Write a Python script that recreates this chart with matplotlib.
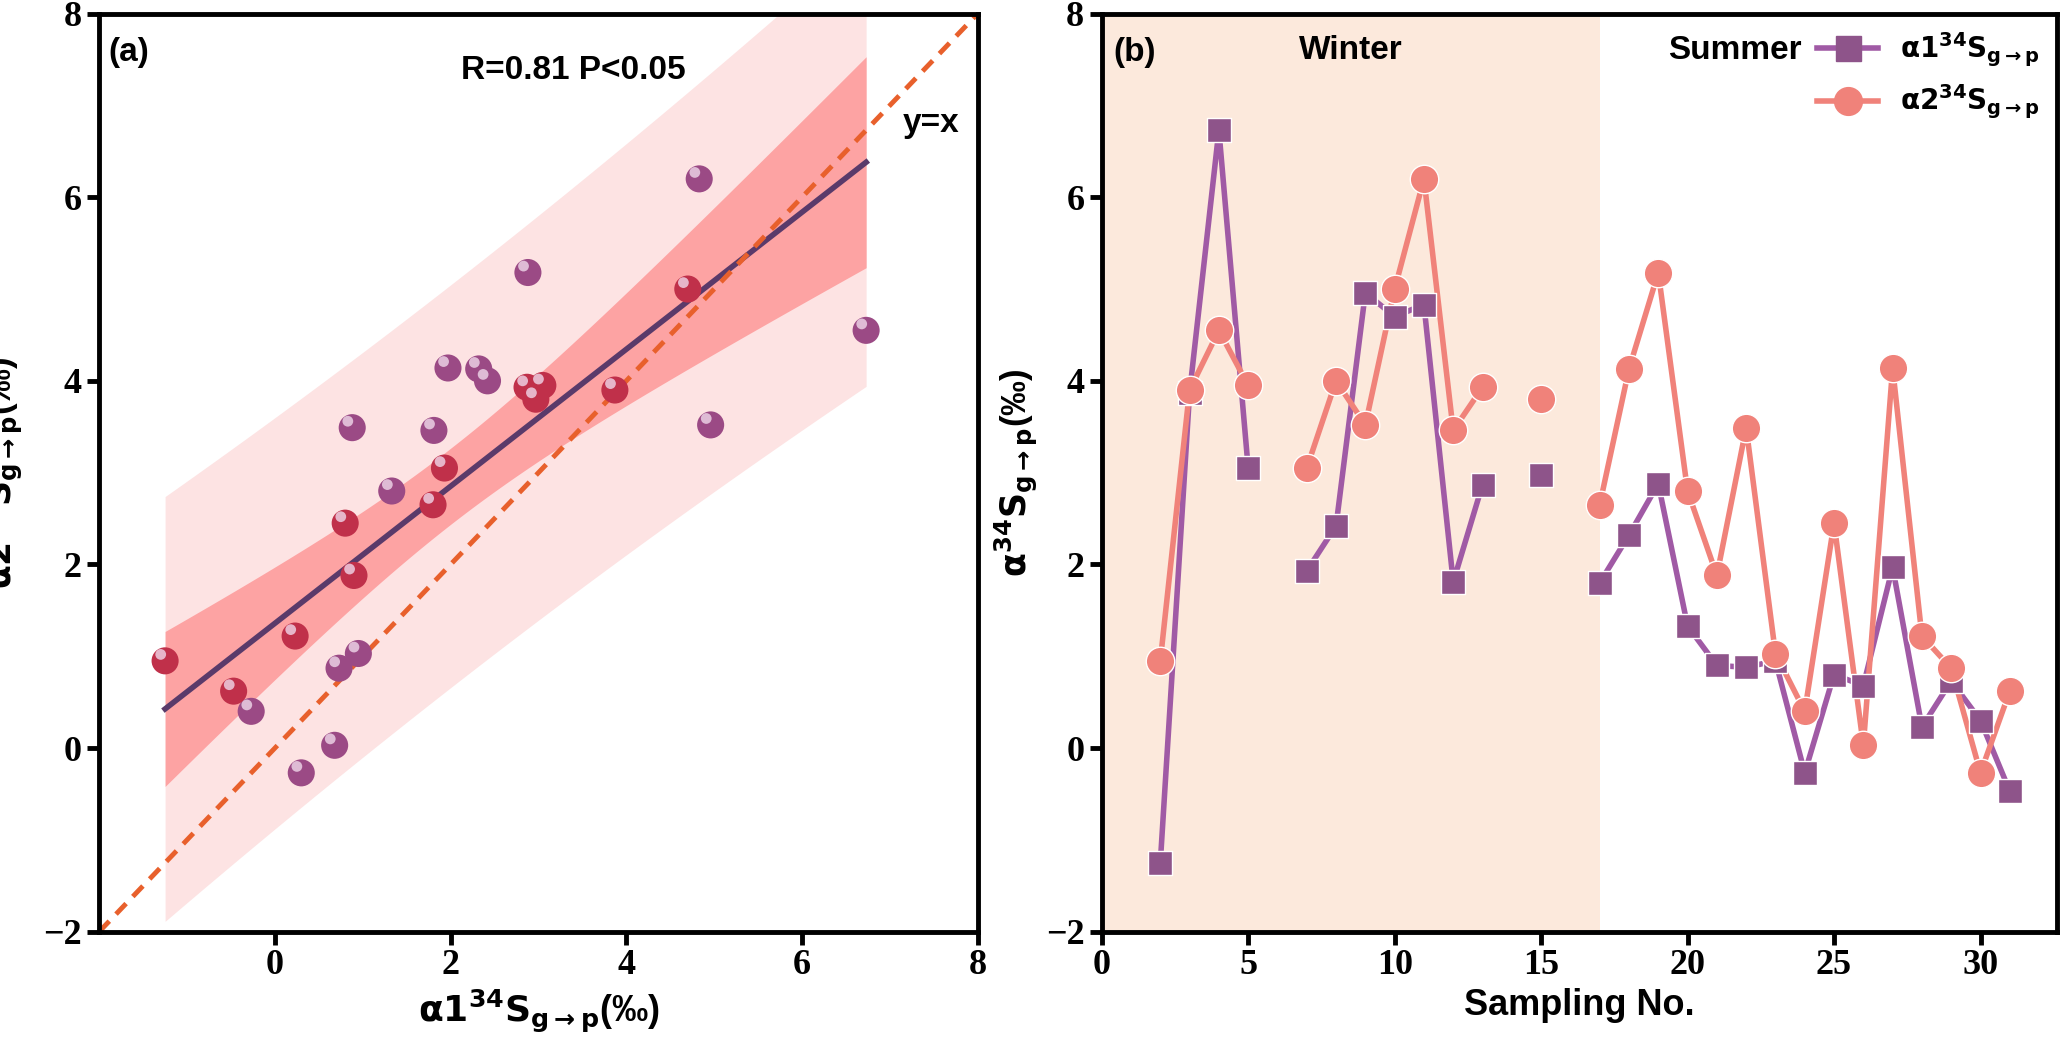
import matplotlib
matplotlib.use("Agg")
import matplotlib.pyplot as plt
import numpy as np

samples = [2, 3, 4, 5, 7, 8, 9, 10, 11, 12, 13, 15, 17, 18, 19, 20, 21, 22, 23, 24, 25, 26, 27, 28, 29, 30, 31]
alpha1 = [-1.25, 3.87, 6.73, 3.05, 1.93, 2.42, 4.96, 4.70, 4.83, 1.81, 2.87, 2.97, 1.80, 2.32, 2.88, 1.33,
          0.90, 0.88, 0.95, -0.27, 0.80, 0.68, 1.97, 0.23, 0.73, 0.30, -0.47]
alpha2 = [0.95, 3.90, 4.55, 3.95, 3.05, 4.00, 3.52, 5.00, 6.20, 3.46, 3.93, 3.80, 2.65, 4.13, 5.18, 2.80,
          1.88, 3.49, 1.03, 0.40, 2.45, 0.03, 4.14, 1.22, 0.87, -0.27, 0.62]
# runs of consecutive samples are joined by lines
segments = [(2, 5), (7, 13), (15, 15), (17, 31)]
winter_end = 17

serif = "Liberation Serif"
sans = "Liberation Sans"
purple = "#a05aa5"
salmon = "#f0827a"

fig = plt.figure(figsize=(20.67, 10.48), dpi=100)
ax_a = fig.add_axes([0.048, 0.111, 0.425, 0.876])
ax_b = fig.add_axes([0.533, 0.111, 0.462, 0.876])

# ---- panel (a)
x = np.array(alpha1)
y = np.array(alpha2)
slope, intercept = np.polyfit(x, y, 1)
n = len(x)
resid = y - (slope * x + intercept)
s = np.sqrt(np.sum(resid**2) / (n - 2))
xs = np.linspace(x.min(), x.max(), 200)
yfit = slope * xs + intercept
sxx = np.sum((x - x.mean())**2)
t = 2.06
ci = t * s * np.sqrt(1/n + (xs - x.mean())**2 / sxx)
pi = t * s * np.sqrt(1 + 1/n + (xs - x.mean())**2 / sxx)
ax_a.fill_between(xs, yfit - pi, yfit + pi, color="#fde3e3", lw=0)
ax_a.fill_between(xs, yfit - ci, yfit + ci, color="#fda3a3", lw=0)
ax_a.plot(xs, yfit, color="#5a3a6a", lw=4)
ax_a.plot([-2, 8], [-2, 8], ls=(0, (3, 2)), color="#e8602c", lw=3.5)
inside = np.abs(resid) <= t * s * np.sqrt(1/n + (x - x.mean())**2 / sxx)
colors = np.where(inside, "#c0304a", "#9b4a85")
ax_a.scatter(x, y, s=380, c=colors, edgecolors="none", zorder=3)
ax_a.scatter(x - 0.05, y + 0.07, s=60, c="#f0d8ea", edgecolors="none", alpha=0.8, zorder=4)
ax_a.set_xlim(-2, 8)
ax_a.set_ylim(-2, 8)
ax_a.set_xticks([0, 2, 4, 6, 8])
ax_a.set_yticks([-2, 0, 2, 4, 6, 8])
ax_a.set_yticklabels(["\u22122", "0", "2", "4", "6", "8"])
ax_a.text(0.01, 0.975, "(a)", transform=ax_a.transAxes, fontsize=24, fontweight="bold",
          family=sans, va="top")
ax_a.text(0.54, 0.955, "R=0.81 P<0.05", transform=ax_a.transAxes, fontsize=24,
          fontweight="bold", family=sans, ha="center", va="top")
ax_a.text(7.15, 6.8, "y=x", fontsize=24, fontweight="bold", family=sans, va="center")
ax_a.set_xlabel(r"$\mathbf{\alpha1^{34}S_{g\rightarrow p}}$(‰)", fontsize=26,
                fontweight="bold", family=sans)
ax_a.set_ylabel(r"$\mathbf{\alpha2^{34}S_{g\rightarrow p}}$(‰)", fontsize=25,
                fontweight="bold", family=sans)
ax_a.yaxis.set_label_coords(-0.085, 0.5)

# ---- panel (b)
ax_b.axvspan(0, winter_end, color="#fce9dc", lw=0)
lookup1 = dict(zip(samples, alpha1))
lookup2 = dict(zip(samples, alpha2))
for start, end in segments:
    xr = [k for k in samples if start <= k <= end]
    ax_b.plot(xr, [lookup1[k] for k in xr], color=purple, lw=4)
    ax_b.plot(xr, [lookup2[k] for k in xr], color=salmon, lw=4)
ax_b.scatter(samples, alpha1, marker="s", s=300, color="#8e548a", zorder=3,
             edgecolors="white", linewidths=1)
ax_b.scatter(samples, alpha2, marker="o", s=420, color=salmon, zorder=3,
             edgecolors="white", linewidths=1)
h1, = ax_b.plot([], [], color=purple, lw=4, marker="s", ms=18, mfc="#8e548a", mec="#8e548a")
h2, = ax_b.plot([], [], color=salmon, lw=4, marker="o", ms=20)
leg = ax_b.legend([h1, h2], [r"$\mathbf{\alpha1^{34}S_{g\rightarrow p}}$",
                             r"$\mathbf{\alpha2^{34}S_{g\rightarrow p}}$"],
                  loc="upper right", frameon=False, fontsize=20, handlelength=2.2,
                  borderaxespad=0.2)
ax_b.text(0.012, 0.975, "(b)", transform=ax_b.transAxes, fontsize=24, fontweight="bold",
          family=sans, va="top")
ax_b.text(8.5, 7.6, "Winter", fontsize=24, fontweight="bold", family=sans, ha="center", va="center")
ax_b.text(21.6, 7.6, "Summer", fontsize=24, fontweight="bold", family=sans, ha="center", va="center")
ax_b.set_xlim(0, 32.6)
ax_b.set_ylim(-2, 8)
ax_b.set_xticks([0, 5, 10, 15, 20, 25, 30])
ax_b.set_yticks([-2, 0, 2, 4, 6, 8])
ax_b.set_yticklabels(["\u22122", "0", "2", "4", "6", "8"])
ax_b.set_xlabel("Sampling No.", fontsize=26, fontweight="bold", family=sans)
ax_b.set_ylabel(r"$\mathbf{\alpha^{34}S_{g\rightarrow p}}$(‰)", fontsize=25,
                fontweight="bold", family=sans)

for ax in (ax_a, ax_b):
    for sp in ax.spines.values():
        sp.set_linewidth(3.5)
    ax.tick_params(width=3.5, length=9, labelsize=26)
    for lab in ax.get_xticklabels() + ax.get_yticklabels():
        lab.set_family(serif)
        lab.set_fontweight("bold")

fig.savefig("out.png", dpi=100)
